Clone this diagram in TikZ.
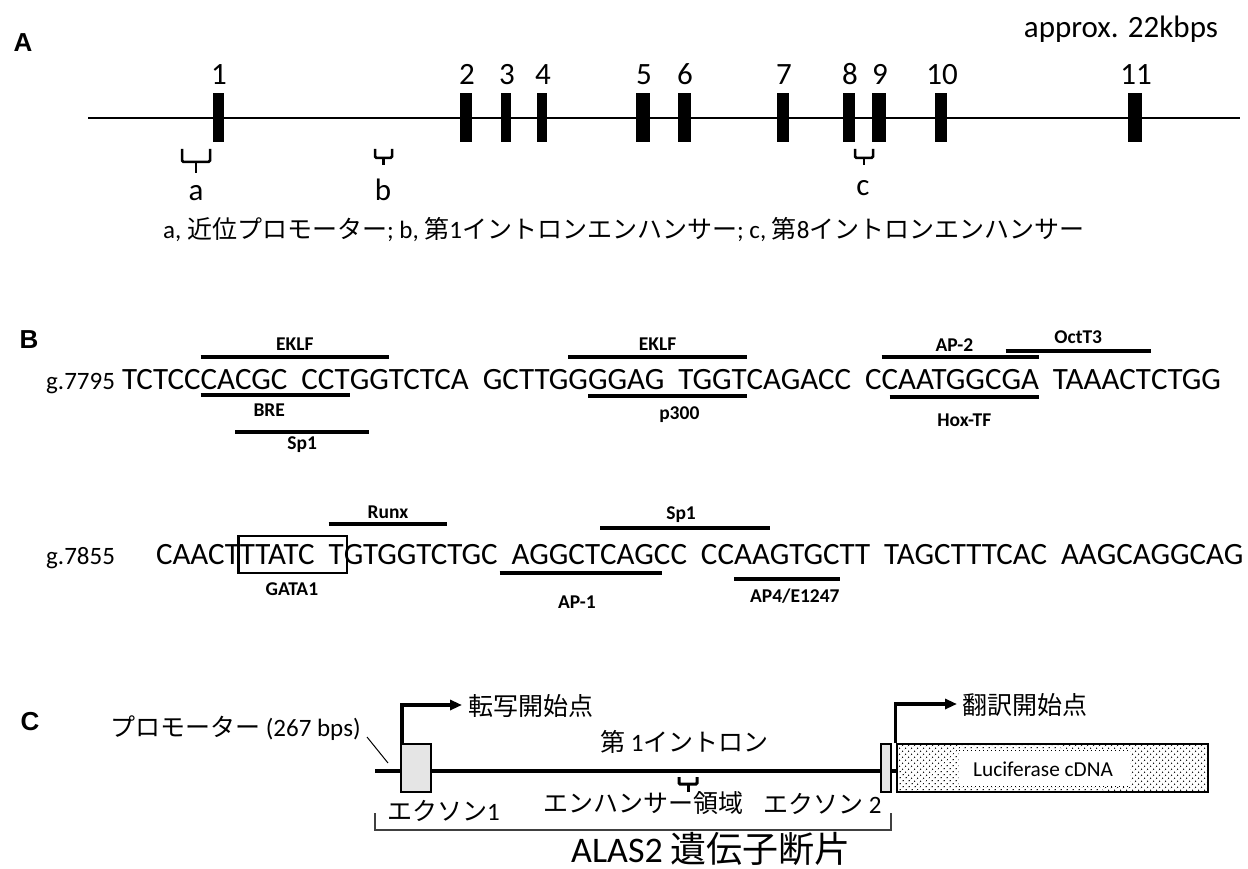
\documentclass[tikz,border=0pt]{standalone}
\usepackage{fontspec}
\setmainfont{Carlito}
\newfontfamily\jp{Noto Sans CJK JP}
\newfontfamily\arialf{Liberation Sans}
\usetikzlibrary{arrows.meta,patterns.meta,calc}
\newcommand\setfs[1]{\fontsize{#1}{#1}\selectfont}
\newcommand\gp{\hspace*{0.45em}}
\begin{document}
\begin{tikzpicture}[x=1pt,y=-1pt,
  panel/.style={font=\arialf\bfseries\setfs{26}, inner sep=0},
  num/.style={font=\setfs{31}, inner sep=0, anchor=base},
  tf/.style={font=\bfseries\setfs{19.5}, inner sep=0},
  jtext/.style={font=\setfs{25}, inner sep=0, anchor=base west},
  sq/.style={font=\setfs{31}, inner sep=0, outer sep=0, anchor=base west},
  glab/.style={font=\setfs{25}, inner sep=0, anchor=base west},
  bar/.style={line width=4pt},
  exon/.style={fill=black, draw=none, inner sep=0, minimum height=49pt},
  brk/.style={line width=2.5pt, rounded corners=1.5pt},
  lexon/.style={draw, fill=black!10, line width=1.5pt, inner sep=0, minimum height=48pt},
  arr/.style={line width=3.5pt, -{Triangle[length=12pt,width=10pt]}}
]
\useasboundingbox (0,0) rectangle (1248,869);
\fill[white] (0,0) rectangle (1248,869);

% ---------------- Panel A ----------------
\node[panel] (pA) at (23,43) {A};
\node[font=\setfs{31}, inner sep=0, anchor=base] (kb) at (1121,38) {approx. 22kbps};
\coordinate (gs) at (88,118);
\coordinate (ge) at (1240,118);
\draw[line width=1.5pt] (gs) -- (ge);
\foreach \n/\x/\w in {1/218/11, 2/466/12, 3/506/10, 4/542/10, 5/643/14, 6/684/13, 7/783/12, 8/849/12, 9/879/14, 10/941/12, 11/1135/14}{
  \node[exon, minimum width=\w pt] (e\n) at (\x,118) {};
  \node[num] (n\n) at (\x+1,85) {\n};
}
% brackets
\draw[brk] (182,149) -- (182,162) -- (210,162) -- (210,149);
\draw[brk] (196,162) -- (196,173);
\draw[brk] (375,149) -- (375,158) -- (392,158) -- (392,149);
\draw[brk] (383.5,158) -- (383.5,165);
\draw[brk] (855,149) -- (855,158) -- (873,158) -- (873,149);
\draw[brk] (864,158) -- (864,165);
\node[num] (la) at (196,201) {a};
\node[num] (lb) at (383,201) {b};
\node[num] (lc) at (863,196) {c};
\node[jtext] (capA) at (163,239) {a, {\jp 近位プロモーター}; b, {\jp 第}1{\jp イントロンエンハンサー}; c, {\jp 第}8{\jp イントロンエンハンサー}};

% ---------------- Panel B ----------------
\node[panel] (pB) at (29,340) {B};
% line 1
\node[glab] (g1) at (46,389) {g.7795};
\node[sq] (a1) at (122,389) {TCTCC};
\node[sq] (a2) at (a1.base east) {CA};
\node[sq] (a3) at (a2.base east) {CGC\gp CCT};
\node[sq] (a4) at (a3.base east) {G};
\node[sq] (a5) at (a4.base east) {G};
\node[sq] (a6) at (a5.base east) {TCTCA\gp GCTTG};
\node[sq] (a7) at (a6.base east) {G};
\node[sq] (a8) at (a7.base east) {GGAG\gp TGGT};
\node[sq] (a9) at (a8.base east) {CAGACC\gp C};
\node[sq] (a10) at (a9.base east) {CAATGGC};
\node[sq] (a11) at (a10.base east) {GA};
\node[sq] (a12) at (a11.base east) {\gp TAAACT};
\node[sq] (a13) at (a12.base east) {CTGG};
% EKLF 1
\draw[bar] (a2.base west |- 0,357) coordinate (k1s) -- (a5.base east |- 0,357) coordinate (k1e);
\node[tf] (eklf1) at ($(k1s)!0.5!(k1e)+(0,-13)$) {EKLF};
% BRE
\draw[bar] (a2.base west |- 0,395) coordinate (bres) -- (a3.base east |- 0,395) coordinate (bree);
\node[tf] (bre) at ($(bres)!0.5!(bree)+(-6,15)$) {BRE};
% Sp1 (line 1)
\draw[bar] (a3.base west |- 0,432) coordinate (spas) -- (a4.base east |- 0,432) coordinate (spae);
\node[tf] (sp1a) at ($(spas)!0.5!(spae)+(0,13)$) {Sp1};
% EKLF 2
\draw[bar] (a7.base west |- 0,357) coordinate (k2s) -- (a8.base east |- 0,357) coordinate (k2e);
\node[tf] (eklf2) at ($(k2s)!0.5!(k2e)+(0,-13)$) {EKLF};
% p300
\draw[bar] (a8.base west |- 0,396) coordinate (ps) -- (a8.base east |- 0,396) coordinate (pe);
\node[tf] (p300) at ($(ps)!0.5!(pe)+(12,19)$) {p300};
% AP-2
\draw[bar] (a10.base west |- 0,357) coordinate (ap2s) -- (a11.base east |- 0,357) coordinate (ap2e);
\node[tf] (ap2) at ($(ap2s)!0.5!(ap2e)+(-6,-12)$) {AP-2};
% OctT3
\draw[bar] ([xshift=4pt]a11.base west |- 0,351) coordinate (octs) -- (a12.base east |- 0,351) coordinate (octe);
\node[tf] (oct) at ($(octs)!0.5!(octe)+(0,-14)$) {OctT3};
% Hox-TF
\draw[bar] ([xshift=8pt]a10.base west |- 0,397) coordinate (hoxs) -- (a11.base east |- 0,397) coordinate (hoxe);
\node[tf] (hox) at ($(hoxs)!0.5!(hoxe)+(0,23)$) {Hox-TF};

% line 2
\node[glab] (g2) at (46,564) {g.7855};
\node[sq] (b1) at (156,564) {CAACT};
\node[sq] (b2) at (b1.base east) {TTATC\gp};
\node[sq] (b3) at (b2.base east) {T};
\node[sq] (b4) at (b3.base east) {GTGGTC};
\node[sq] (b5) at (b4.base east) {TGC};
\node[sq] (b6) at (b5.base east) {\gp AGGCT};
\node[sq] (b7) at (b6.base east) {CAG};
\node[sq] (b8) at (b7.base east) {C};
\node[sq] (b9) at (b8.base east) {C\gp C};
\node[sq] (b10) at (b9.base east) {C};
\node[sq] (b11) at (b10.base east) {AA};
\node[sq] (b12) at (b11.base east) {GTGC};
\node[sq] (b13) at (b12.base east) {TT\gp TAGCTTTCAC\gp AAGCAGGCAG};
% GATA1 box
\draw[line width=2.5pt] ([xshift=-1.5pt]b2.base west |- 0,536) rectangle ([xshift=3pt]b3.base east |- 0,573);
\coordinate (gm) at ($(b2.base west)!0.5!(b3.base east)$);
\node[tf] (gata) at (gm |- 0,589) {GATA1};
% Runx
\draw[bar] (b3.base west |- 0,524) coordinate (rs) -- (b4.base east |- 0,524) coordinate (re);
\node[tf] (runx) at ($(rs)!0.5!(re)+(0,-12)$) {Runx};
% AP-1
\draw[bar] ([xshift=2pt]b5.base east |- 0,573) coordinate (a1s) -- (b8.base |- 0,573) coordinate (a1e);
\node[tf] (ap1) at ($(a1s)!0.5!(a1e)+(-4,29)$) {AP-1};
% Sp1 (line 2)
\draw[bar] (b7.base west |- 0,528) coordinate (spbs) -- (b11.base east |- 0,528) coordinate (spbe);
\node[tf] (sp1b) at ($(spbs)!0.5!(spbe)+(-4,-13)$) {Sp1};
% AP4/E1247
\draw[bar] (b11.base west |- 0,579) coordinate (a4s) -- (b12.base east |- 0,579) coordinate (a4e);
\node[tf] (ap4) at ($(a4s)!0.5!(a4e)+(8,17)$) {AP4/E1247};

% ---------------- Panel C ----------------
\node[panel] (pC) at (30,722) {C};
\node[jtext] (prom) at (110,736) {{\jp プロモーター} (267 bps)};
\coordinate (pl1) at (367,737);
\coordinate (pl2) at (388,763);
\draw[line width=1pt] (pl1) -- (pl2);
\coordinate (ls) at (375,771);
\node[draw, line width=2pt, pattern={Dots[distance=4pt,angle=45,radius=0.8pt]}, pattern color=black, inner sep=0, minimum width=311pt, minimum height=48pt] (cdna) at (1052.5,768) {};
\fill[white] (959,749) rectangle (1130,787);
\draw[line width=1pt, dash pattern=on 1pt off 3pt] (959,750) -- (1130,750);
\draw[line width=1pt, dash pattern=on 1pt off 3pt] (959,786) -- (1130,786);
\node[font=\setfs{21.3}, inner sep=0] (luc) at (1043,769) {Luciferase cDNA};
\draw[line width=4pt] (ls) -- (cdna.west |- ls);
\node[lexon, minimum width=30pt] (x1) at (416,768) {};
\node[lexon, minimum width=10pt] (x2) at (886,768) {};
\coordinate (tss) at (462,705);
\draw[arr] ([xshift=1.5pt]x1.north west) |- (tss);
\coordinate (tls) at (957,704);
\draw[arr] ([xshift=-0.5pt]cdna.north west) |- (tls);
\node[jtext] (tsst) at (468,715) {\jp 転写開始点};
\node[jtext] (tlst) at (962,714) {\jp 翻訳開始点};
\node[jtext] (intr) at (600,751) {{\jp 第} 1{\jp イントロン}};
% enhancer mark
\draw[line width=3pt, rounded corners=1pt] (679,777) -- (679,784) -- (697,784) -- (697,777);
\draw[line width=3pt] (688,784) -- (688,792);
\node[jtext] (enh) at (543,812) {\jp エンハンサー領域};
\node[jtext] (ex1) at (387,820) {{\jp エクソン}1};
\node[jtext] (ex2) at (763,813) {{\jp エクソン} 2};
\coordinate (bl) at (375,813);
\coordinate (br) at (891,830);
\draw[line width=1.5pt, black!75] (bl) |- (br) -- (891,813);
\node[font=\setfs{36}, inner sep=0, anchor=base west] (alas) at (571,862) {ALAS2 {\jp 遺伝子断片}};
\end{tikzpicture}
\end{document}
